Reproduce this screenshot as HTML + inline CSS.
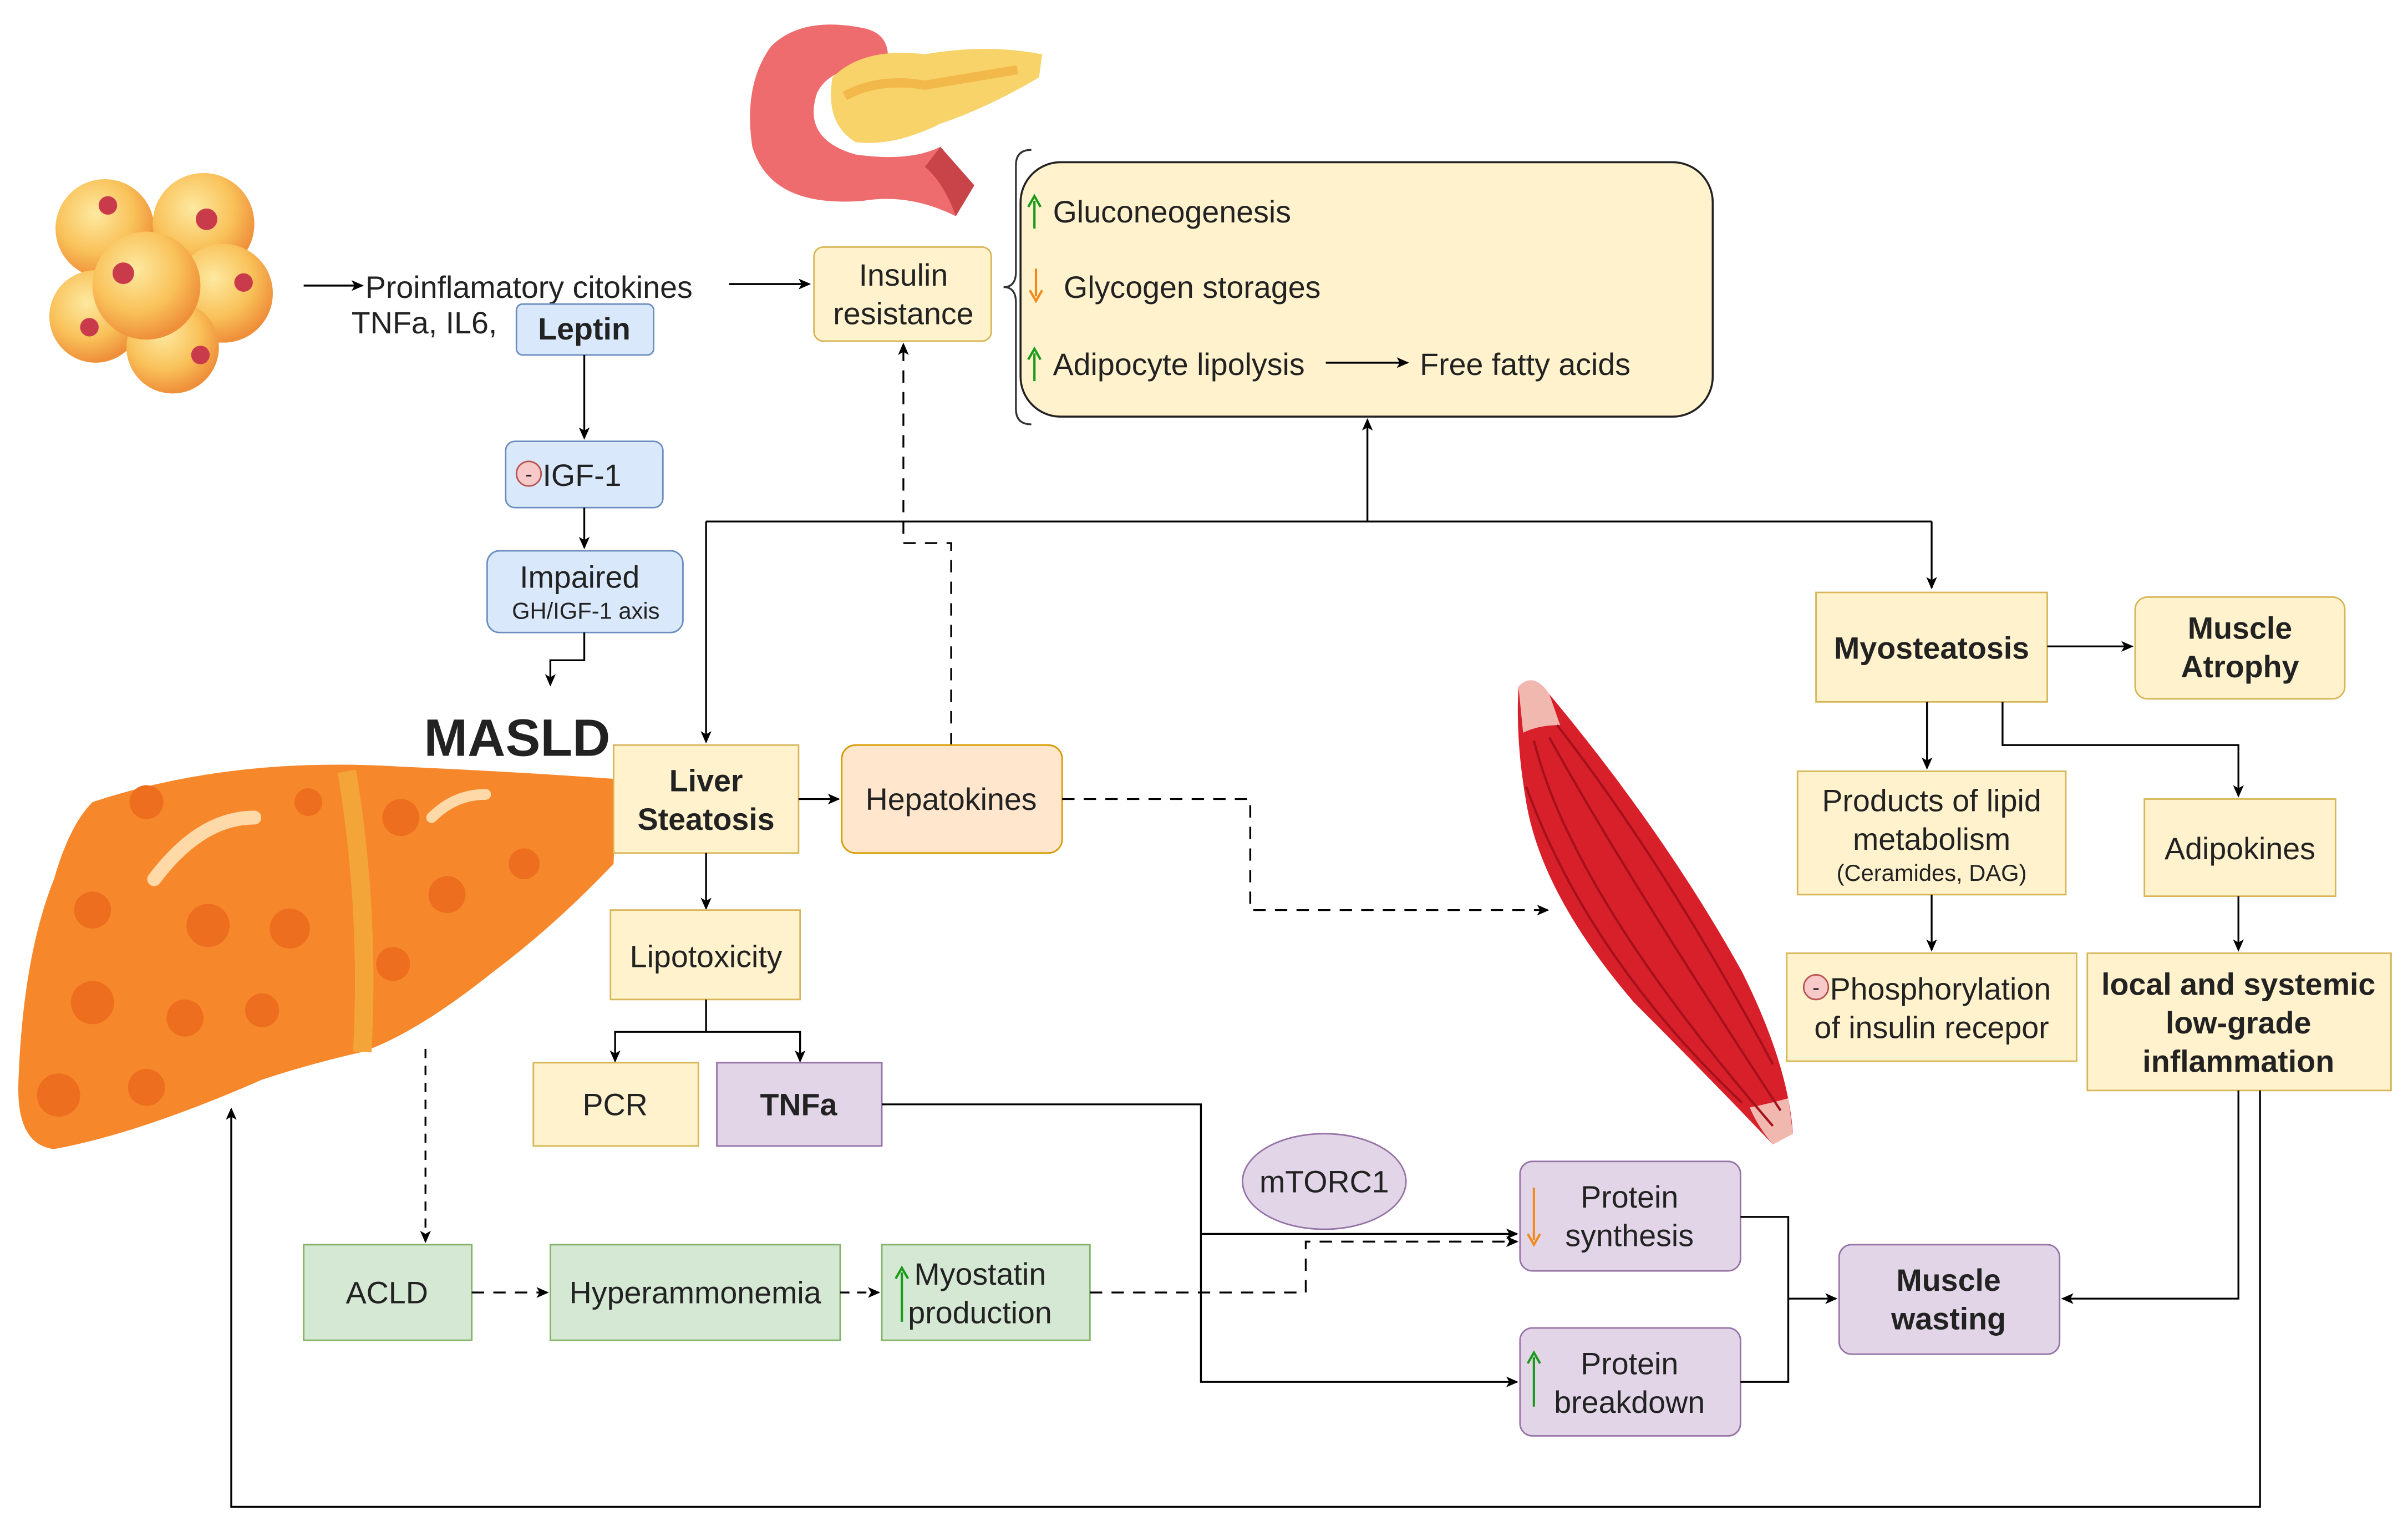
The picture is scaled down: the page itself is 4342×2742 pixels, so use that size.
<!DOCTYPE html>
<html><head><meta charset="utf-8"><style>
html,body{margin:0;padding:0;background:#fff;}
svg{display:block;}
text{font-family:"Liberation Sans",Arial,sans-serif;fill:#222;}
</style></head><body>
<svg width="4342" height="2742" viewBox="0 0 1562 986" xmlns="http://www.w3.org/2000/svg">
<defs>
<marker id="a" markerWidth="8" markerHeight="8" refX="7" refY="4" orient="auto" markerUnits="userSpaceOnUse"><path d="M0,0.5 L8,4 L0,7.5 L2,4 Z" fill="#000"/></marker>
<radialGradient id="fat" cx="40%" cy="35%" r="65%"><stop offset="0" stop-color="#fde9a0"/><stop offset="0.6" stop-color="#f9c25a"/><stop offset="1" stop-color="#ef8f3a"/></radialGradient>
</defs>
<rect width="1562" height="986" fill="#fff"/>

<!-- Fat cells -->
<g>
<circle cx="68" cy="148" r="32" fill="url(#fat)"/>
<circle cx="132" cy="145" r="33" fill="url(#fat)"/>
<circle cx="145" cy="190" r="32" fill="url(#fat)"/>
<circle cx="62" cy="205" r="30" fill="url(#fat)"/>
<circle cx="112" cy="225" r="30" fill="url(#fat)"/>
<circle cx="95" cy="185" r="35" fill="url(#fat)"/>
<circle cx="70" cy="133" r="6" fill="#c93a4a"/><circle cx="134" cy="142" r="7" fill="#c93a4a"/>
<circle cx="80" cy="177" r="7" fill="#c93a4a"/><circle cx="158" cy="183" r="6" fill="#c93a4a"/>
<circle cx="58" cy="212" r="6" fill="#c93a4a"/><circle cx="130" cy="230" r="6" fill="#c93a4a"/>
</g>

<!-- Pancreas -->
<g>
<path d="M500,30 Q520,10 560,18 Q580,22 575,45 Q540,40 530,60 Q520,90 555,100 Q590,105 610,95 L632,120 L620,140 Q590,125 560,130 Q500,135 488,95 Q482,55 500,30 Z" fill="#ee6b6e"/>
<path d="M540,50 Q560,30 600,35 Q640,28 676,35 L674,50 Q640,70 610,80 Q580,95 555,92 Q535,80 540,50 Z" fill="#f8d36a"/>
<path d="M548,62 Q570,50 600,55 Q630,50 660,45" stroke="#f2b84a" stroke-width="6" fill="none"/>
<path d="M610,95 L632,120 L620,140 Q612,118 600,108 Z" fill="#c94448"/>
</g>

<!-- Arrows top -->
<line x1="197" y1="185" x2="235" y2="185" stroke="#000" stroke-width="1.3" marker-end="url(#a)"/>
<text x="237" y="193" font-size="20">Proinflamatory citokines</text>
<text x="228" y="216" font-size="20">TNFa, IL6,</text>
<rect x="335" y="197" width="89" height="33" rx="4" fill="#dae8fc" stroke="#6c8ebf"/>
<text x="379" y="220" font-size="20" font-weight="bold" text-anchor="middle">Leptin</text>
<line x1="473" y1="184" x2="525" y2="184" stroke="#000" stroke-width="1.3" marker-end="url(#a)"/>

<rect x="528" y="160" width="115" height="61" rx="6" fill="#fff2cc" stroke="#d6b656"/>
<text x="586" y="185" font-size="20" text-anchor="middle">Insulin</text>
<text x="586" y="210" font-size="20" text-anchor="middle">resistance</text>

<!-- brace -->
<path d="M669,97 Q659,97 659,107 L659,176 Q659,186 651,186 Q659,186 659,196 L659,265 Q659,275 669,275" fill="none" stroke="#333" stroke-width="1.2"/>
<rect x="662" y="105" width="449" height="165" rx="26" fill="#fff2cc" stroke="#222" stroke-width="1.3"/>
<line x1="671" y1="148" x2="671" y2="130" stroke="#1a9a1a" stroke-width="1.5"/><path d="M667,134 L671,127 L675,134" fill="none" stroke="#1a9a1a" stroke-width="1.5"/>
<text x="683" y="144" font-size="20">Gluconeogenesis</text>
<line x1="672" y1="174" x2="672" y2="192" stroke="#f08a1c" stroke-width="1.5"/><path d="M668,188 L672,195 L676,188" fill="none" stroke="#f08a1c" stroke-width="1.5"/>
<text x="690" y="193" font-size="20">Glycogen storages</text>
<line x1="671" y1="247" x2="671" y2="229" stroke="#1a9a1a" stroke-width="1.5"/><path d="M667,233 L671,226 L675,233" fill="none" stroke="#1a9a1a" stroke-width="1.5"/>
<text x="683" y="243" font-size="20">Adipocyte lipolysis</text>
<line x1="860" y1="235" x2="913" y2="235" stroke="#000" stroke-width="1.3" marker-end="url(#a)"/>
<text x="921" y="243" font-size="20">Free fatty acids</text>

<!-- Leptin chain -->
<line x1="379" y1="230" x2="379" y2="284" stroke="#000" stroke-width="1.2" marker-end="url(#a)"/>
<rect x="328" y="286" width="102" height="43" rx="6" fill="#dae8fc" stroke="#6c8ebf"/>
<circle cx="343" cy="307" r="8" fill="#f8c9c9" stroke="#b85450"/><text x="343" y="312" font-size="14" text-anchor="middle">-</text>
<text x="352" y="315" font-size="20">IGF-1</text>
<line x1="379" y1="329" x2="379" y2="355" stroke="#000" stroke-width="1.2" marker-end="url(#a)"/>
<rect x="316" y="357" width="127" height="53" rx="8" fill="#dae8fc" stroke="#6c8ebf"/>
<text x="376" y="381" font-size="20" text-anchor="middle">Impaired</text>
<text x="380" y="401" font-size="15" text-anchor="middle">GH/IGF-1 axis</text>
<polyline points="379,410 379,428 357,428 357,444" fill="none" stroke="#000" stroke-width="1.2" marker-end="url(#a)"/>

<text x="275" y="490" font-size="34" font-weight="bold" fill="#111">MASLD</text>

<!-- Liver -->
<g>
<path d="M60,520 Q150,490 260,497 Q330,500 400,505 L398,560 Q360,600 320,630 Q270,670 235,682 Q200,690 170,700 Q90,735 35,745 Q10,742 12,700 Q15,620 35,570 Q45,535 60,520 Z" fill="#f7872b"/>
<path d="M225,500 Q240,590 235,682" stroke="#f4a53a" stroke-width="12" fill="none"/>
<path d="M100,570 Q130,530 165,530" stroke="#ffd9a8" stroke-width="9" fill="none" stroke-linecap="round"/>
<path d="M280,530 Q295,515 315,515" stroke="#ffd9a8" stroke-width="7" fill="none" stroke-linecap="round"/>
<g fill="#ec6e1e">
<circle cx="95" cy="520" r="11"/><circle cx="60" cy="590" r="12"/><circle cx="135" cy="600" r="14"/><circle cx="188" cy="602" r="13"/>
<circle cx="60" cy="650" r="14"/><circle cx="120" cy="660" r="12"/><circle cx="170" cy="655" r="11"/><circle cx="38" cy="710" r="14"/>
<circle cx="95" cy="705" r="12"/><circle cx="260" cy="530" r="12"/><circle cx="290" cy="580" r="12"/><circle cx="255" cy="625" r="11"/>
<circle cx="340" cy="560" r="10"/><circle cx="200" cy="520" r="9"/>
</g>
</g>

<!-- Main connectors -->
<line x1="887" y1="338" x2="887" y2="272" stroke="#000" stroke-width="1.2" marker-end="url(#a)"/>
<line x1="458" y1="338" x2="1253" y2="338" stroke="#000" stroke-width="1.2"/>
<line x1="458" y1="338" x2="458" y2="481" stroke="#000" stroke-width="1.2" marker-end="url(#a)"/>
<line x1="1253" y1="338" x2="1253" y2="381" stroke="#000" stroke-width="1.2" marker-end="url(#a)"/>
<polyline points="617,483 617,352 586,352 586,223" fill="none" stroke="#000" stroke-width="1.2" stroke-dasharray="8,6" marker-end="url(#a)"/>

<rect x="398" y="483" width="120" height="70" fill="#fff2cc" stroke="#d6b656"/>
<text x="458" y="513" font-size="20" font-weight="bold" text-anchor="middle">Liver</text>
<text x="458" y="538" font-size="20" font-weight="bold" text-anchor="middle">Steatosis</text>
<line x1="518" y1="518" x2="544" y2="518" stroke="#000" stroke-width="1.2" marker-end="url(#a)"/>
<rect x="546" y="483" width="143" height="70" rx="9" fill="#ffe6cc" stroke="#d79b00"/>
<text x="617" y="525" font-size="20" text-anchor="middle">Hepatokines</text>
<polyline points="689,518 811,518 811,590 1004,590" fill="none" stroke="#000" stroke-width="1.2" stroke-dasharray="8,6" marker-end="url(#a)"/>

<line x1="458" y1="553" x2="458" y2="589" stroke="#000" stroke-width="1.2" marker-end="url(#a)"/>
<rect x="396" y="590" width="123" height="58" fill="#fff2cc" stroke="#d6b656"/>
<text x="458" y="627" font-size="20" text-anchor="middle">Lipotoxicity</text>
<polyline points="458,648 458,669" fill="none" stroke="#000" stroke-width="1.2"/>
<polyline points="399,688 399,669 519,669 519,688" fill="none" stroke="#000" stroke-width="1.2"/>
<line x1="399" y1="680" x2="399" y2="688" stroke="#000" marker-end="url(#a)"/>
<line x1="519" y1="680" x2="519" y2="688" stroke="#000" marker-end="url(#a)"/>
<rect x="346" y="689" width="107" height="54" fill="#fff2cc" stroke="#d6b656"/>
<text x="399" y="723" font-size="20" text-anchor="middle">PCR</text>
<rect x="465" y="689" width="107" height="54" fill="#e1d5e7" stroke="#9673a6"/>
<text x="518" y="723" font-size="20" font-weight="bold" text-anchor="middle">TNFa</text>

<polyline points="572,716 779,716 779,896 984,896" fill="none" stroke="#000" stroke-width="1.2" marker-end="url(#a)"/>
<line x1="779" y1="800" x2="984" y2="800" stroke="#000" stroke-width="1.2" marker-end="url(#a)"/>

<ellipse cx="859" cy="766" rx="53" ry="31" fill="#e1d5e7" stroke="#9673a6"/>
<text x="859" y="773" font-size="20" text-anchor="middle">mTORC1</text>

<!-- Muscle -->
<g>
<path d="M985,445 Q995,435 1005,450 Q1080,540 1130,630 Q1160,690 1163,735 L1150,742 Q1110,700 1060,650 Q1000,580 990,520 Q983,480 985,445 Z" fill="#d8202a"/>
<path d="M985,445 Q995,435 1005,450 L1012,470 Q998,470 988,475 Z" fill="#f1b8b0"/>
<path d="M1163,735 L1150,742 Q1140,730 1135,718 Q1150,715 1160,712 Z" fill="#f1b8b0"/>
<g stroke="#a5101a" stroke-width="1.5" fill="none">
<path d="M995,480 Q1020,580 1150,730"/><path d="M1005,478 Q1050,560 1155,720"/><path d="M990,510 Q1030,620 1130,715"/><path d="M1010,470 Q1080,560 1150,690"/>
</g>
</g>

<rect x="986" y="753" width="143" height="71" rx="8" fill="#e1d5e7" stroke="#9673a6"/>
<line x1="995" y1="770" x2="995" y2="804" stroke="#f08a1c" stroke-width="1.5"/><path d="M991,800 L995,807 L999,800" fill="none" stroke="#f08a1c" stroke-width="1.5"/>
<text x="1057" y="783" font-size="20" text-anchor="middle">Protein</text>
<text x="1057" y="808" font-size="20" text-anchor="middle">synthesis</text>
<rect x="986" y="861" width="143" height="70" rx="8" fill="#e1d5e7" stroke="#9673a6"/>
<line x1="995" y1="912" x2="995" y2="880" stroke="#1a9a1a" stroke-width="1.5"/><path d="M991,884 L995,877 L999,884" fill="none" stroke="#1a9a1a" stroke-width="1.5"/>
<text x="1057" y="891" font-size="20" text-anchor="middle">Protein</text>
<text x="1057" y="916" font-size="20" text-anchor="middle">breakdown</text>
<polyline points="1129,789 1160,789 1160,896 1129,896" fill="none" stroke="#000" stroke-width="1.2"/>
<line x1="1160" y1="842" x2="1191" y2="842" stroke="#000" stroke-width="1.2" marker-end="url(#a)"/>
<rect x="1193" y="807" width="143" height="71" rx="8" fill="#e1d5e7" stroke="#9673a6"/>
<text x="1264" y="837" font-size="20" font-weight="bold" text-anchor="middle">Muscle</text>
<text x="1264" y="862" font-size="20" font-weight="bold" text-anchor="middle">wasting</text>

<!-- Green row -->
<line x1="276" y1="680" x2="276" y2="805" stroke="#000" stroke-width="1.2" stroke-dasharray="6,5" marker-end="url(#a)"/>
<rect x="197" y="807" width="109" height="62" fill="#d5e8d4" stroke="#82b366"/>
<text x="251" y="845" font-size="20" text-anchor="middle">ACLD</text>
<line x1="306" y1="838" x2="355" y2="838" stroke="#000" stroke-width="1.2" stroke-dasharray="8,6" marker-end="url(#a)"/>
<rect x="357" y="807" width="188" height="62" fill="#d5e8d4" stroke="#82b366"/>
<text x="451" y="845" font-size="20" text-anchor="middle">Hyperammonemia</text>
<line x1="545" y1="838" x2="570" y2="838" stroke="#000" stroke-width="1.2" stroke-dasharray="6,5" marker-end="url(#a)"/>
<rect x="572" y="807" width="135" height="62" fill="#d5e8d4" stroke="#82b366"/>
<line x1="585" y1="857" x2="585" y2="825" stroke="#1a9a1a" stroke-width="1.5"/><path d="M581,829 L585,822 L589,829" fill="none" stroke="#1a9a1a" stroke-width="1.5"/>
<text x="593" y="833" font-size="20">Myostatin</text>
<text x="589" y="858" font-size="20">production</text>
<polyline points="707,838 847,838 847,805 984,805" fill="none" stroke="#000" stroke-width="1.2" stroke-dasharray="8,6" marker-end="url(#a)"/>

<!-- Right side -->
<rect x="1178" y="384" width="150" height="71" fill="#fff2cc" stroke="#d6b656"/>
<text x="1253" y="427" font-size="20" font-weight="bold" text-anchor="middle">Myosteatosis</text>
<line x1="1328" y1="419" x2="1383" y2="419" stroke="#000" stroke-width="1.2" marker-end="url(#a)"/>
<rect x="1385" y="387" width="136" height="66" rx="8" fill="#fff2cc" stroke="#d6b656"/>
<text x="1453" y="414" font-size="20" font-weight="bold" text-anchor="middle">Muscle</text>
<text x="1453" y="439" font-size="20" font-weight="bold" text-anchor="middle">Atrophy</text>
<line x1="1250" y1="455" x2="1250" y2="498" stroke="#000" stroke-width="1.2" marker-end="url(#a)"/>
<polyline points="1299,455 1299,483 1452,483 1452,516" fill="none" stroke="#000" stroke-width="1.2" marker-end="url(#a)"/>
<rect x="1166" y="500" width="174" height="80" fill="#fff2cc" stroke="#d6b656"/>
<text x="1253" y="526" font-size="20" text-anchor="middle">Products of lipid</text>
<text x="1253" y="551" font-size="20" text-anchor="middle">metabolism</text>
<text x="1253" y="571" font-size="15" text-anchor="middle">(Ceramides, DAG)</text>
<rect x="1391" y="518" width="124" height="63" fill="#fff2cc" stroke="#d6b656"/>
<text x="1453" y="557" font-size="20" text-anchor="middle">Adipokines</text>
<line x1="1253" y1="580" x2="1253" y2="616" stroke="#000" stroke-width="1.2" marker-end="url(#a)"/>
<line x1="1452" y1="581" x2="1452" y2="616" stroke="#000" stroke-width="1.2" marker-end="url(#a)"/>
<rect x="1159" y="618" width="188" height="70" fill="#fff2cc" stroke="#d6b656"/>
<circle cx="1178" cy="640" r="8" fill="#f8c9c9" stroke="#b85450"/><text x="1178" y="645" font-size="14" text-anchor="middle">-</text>
<text x="1187" y="648" font-size="20">Phosphorylation</text>
<text x="1253" y="673" font-size="20" text-anchor="middle">of insulin recepor</text>
<rect x="1354" y="618" width="197" height="89" fill="#fff2cc" stroke="#d6b656"/>
<text x="1452" y="645" font-size="20" font-weight="bold" text-anchor="middle">local and systemic</text>
<text x="1452" y="670" font-size="20" font-weight="bold" text-anchor="middle">low-grade</text>
<text x="1452" y="695" font-size="20" font-weight="bold" text-anchor="middle">inflammation</text>
<polyline points="1452,707 1452,842 1338,842" fill="none" stroke="#000" stroke-width="1.2" marker-end="url(#a)"/>
<polyline points="1466,707 1466,977 150,977 150,719" fill="none" stroke="#000" stroke-width="1.2" marker-end="url(#a)"/>
</svg>
</body></html>
